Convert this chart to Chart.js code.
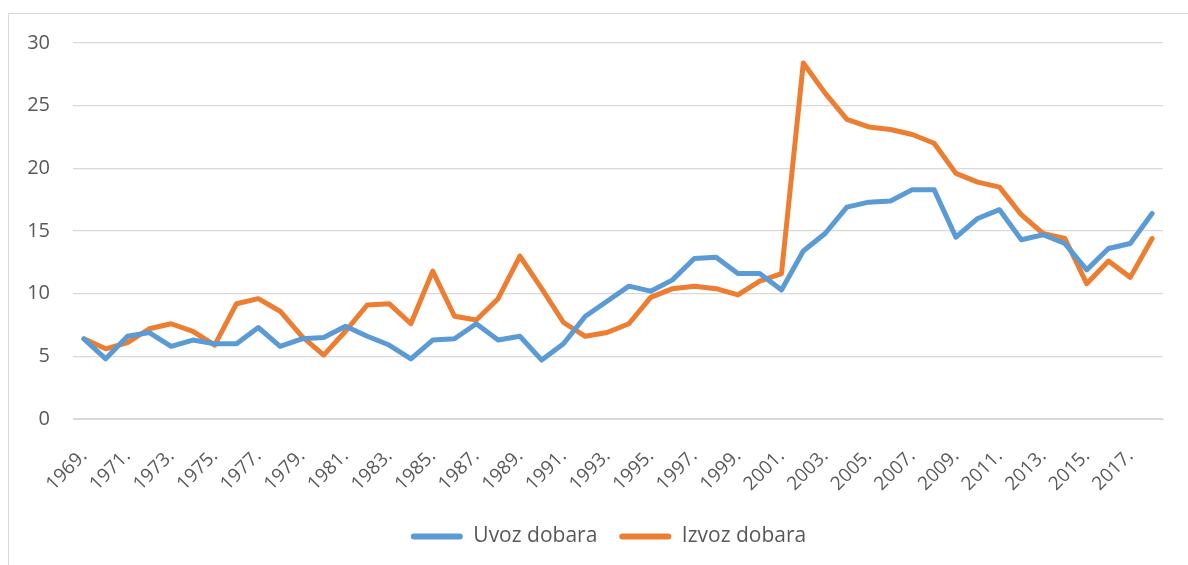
<!DOCTYPE html>
<html lang="hr">
<head>
    <meta charset="UTF-8">
    <title>Uvoz i izvoz dobara</title>
    <script src="https://cdn.jsdelivr.net/npm/chart.js"></script>
    <style>
        body {
            margin: 0;
            background: #ffffff;
            overflow: hidden;
        }
        .frame {
            position: absolute;
            left: 8px;
            top: 13px;
            width: 1400px;
            height: 800px;
            border: 1px solid #d9d9d9;
        }
        .wrap {
            position: absolute;
            left: 0;
            top: 0;
            width: 1188px;
            height: 565px;
        }
    </style>
</head>
<body>

<div class="frame"></div>
<div class="wrap">
    <canvas id="tradeChart" width="1188" height="565"></canvas>
</div>

<script>
    // years 1969 - 2018
    const years = [];
    for (let y = 1969; y <= 2018; y++) years.push(y + '.');

    const uvozDobara = [
        6.4, 4.8, 6.6, 6.9, 5.8, 6.3, 6.0, 6.0, 7.3, 5.8,
        6.4, 6.5, 7.4, 6.6, 5.9, 4.8, 6.3, 6.4, 7.6, 6.3,
        6.6, 4.7, 6.0, 8.2, 9.4, 10.6, 10.2, 11.1, 12.8, 12.9,
        11.6, 11.6, 10.3, 13.4, 14.8, 16.9, 17.3, 17.4, 18.3, 18.3,
        14.5, 16.0, 16.7, 14.3, 14.7, 14.0, 11.9, 13.6, 14.0, 16.4
    ];

    const izvozDobara = [
        6.4, 5.6, 6.1, 7.2, 7.6, 7.0, 5.9, 9.2, 9.6, 8.6,
        6.6, 5.1, 7.0, 9.1, 9.2, 7.6, 11.8, 8.2, 7.9, 9.6,
        13.0, 10.4, 7.7, 6.6, 6.9, 7.6, 9.7, 10.4, 10.6, 10.4,
        9.9, 11.0, 11.6, 28.4, 26.0, 23.9, 23.3, 23.1, 22.7, 22.0,
        19.6, 18.9, 18.5, 16.3, 14.8, 14.4, 10.8, 12.6, 11.3, 14.4
    ];

    const textColor = '#595959';
    const gridColor = '#d9d9d9';
    const fontFamily = "'Open Sans', sans-serif";

    // legend sits a bit right of the canvas centre, like the original
    const legendShift = {
        id: 'legendShift',
        afterLayout: function (chart) {
            chart.legend.left += 27;
            chart.legend.right += 27;
        }
    };

    const ctx = document.getElementById('tradeChart').getContext('2d');
    new Chart(ctx, {
        type: 'line',
        data: {
            labels: years,
            datasets: [
                {
                    label: 'Uvoz dobara',
                    data: uvozDobara,
                    borderColor: '#5b9bd5',
                    backgroundColor: '#5b9bd5',
                    borderWidth: 5,
                    pointRadius: 0,
                    tension: 0,
                    borderJoinStyle: 'round',
                    borderCapStyle: 'round',
                    fill: false
                },
                {
                    label: 'Izvoz dobara',
                    data: izvozDobara,
                    borderColor: '#ed7d31',
                    backgroundColor: '#ed7d31',
                    borderWidth: 5,
                    pointRadius: 0,
                    tension: 0,
                    borderJoinStyle: 'round',
                    borderCapStyle: 'round',
                    fill: false
                }
            ]
        },
        options: {
            responsive: false,
            animation: false,
            layout: {
                padding: { top: 43, right: 25, bottom: 8, left: 0 }
            },
            plugins: {
                tooltip: { enabled: false },
                legend: {
                    position: 'bottom',
                    labels: {
                        color: textColor,
                        font: { family: fontFamily, size: 21 },
                        boxWidth: 52,
                        boxHeight: 6,
                        padding: 22,
                        generateLabels: function (chart) {
                            return chart.data.datasets.map(function (ds, i) {
                                return {
                                    text: ds.label,
                                    fillStyle: ds.borderColor,
                                    strokeStyle: ds.borderColor,
                                    lineWidth: 0,
                                    fontColor: textColor,
                                    borderRadius: 3,
                                    datasetIndex: i
                                };
                            });
                        }
                    }
                }
            },
            scales: {
                x: {
                    offset: true,
                    grid: { display: false, drawTicks: false },
                    border: { display: true, color: gridColor },
                    afterFit: function (scale) {
                        scale.height = 85;
                        scale.paddingLeft = 0;
                        scale.paddingRight = 0;
                    },
                    ticks: {
                        color: textColor,
                        font: { family: fontFamily, size: 19 },
                        autoSkip: false,
                        minRotation: 45,
                        maxRotation: 45,
                        padding: 26,
                        callback: function (val, idx) {
                            return idx % 2 === 0 ? this.getLabelForValue(val) : '';
                        }
                    }
                },
                y: {
                    min: 0,
                    max: 30,
                    grid: { color: gridColor, lineWidth: 1.3, drawTicks: false },
                    border: { display: false },
                    afterFit: function (scale) { scale.width = 73; },
                    ticks: {
                        stepSize: 5,
                        color: textColor,
                        font: { family: fontFamily, size: 20 },
                        padding: 23
                    }
                }
            }
        },
        plugins: [legendShift]
    });
</script>
</body>
</html>
